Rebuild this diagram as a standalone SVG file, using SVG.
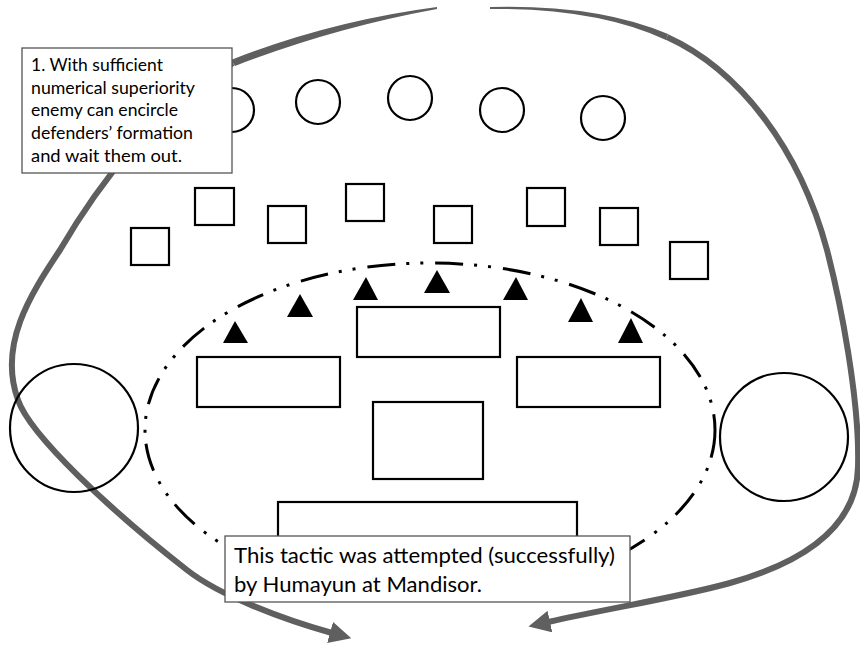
<svg xmlns="http://www.w3.org/2000/svg" width="860" height="645" viewBox="0 0 860 645">
<style>
.u{fill:#fff;stroke:#000;stroke-width:2.2}
.t{fill:#000;stroke:none}
.arr{fill:none;stroke:#5f5f5f;stroke-width:6}
.taper{fill:#5f5f5f;stroke:none}
.ell{fill:none;stroke:#000;stroke-width:3;stroke-dasharray:28 11 3 11 3 12}
.box{fill:#fff;stroke:#555;stroke-width:1.3}
.txt{font-family:Lato,"Noto Sans","Liberation Sans",Arial,sans-serif;fill:#000}
</style>
<defs>
<marker id="ah" markerUnits="userSpaceOnUse" viewBox="0 0 22 22" markerWidth="22" markerHeight="22" refX="2" refY="11" orient="auto">
<path d="M0,0 L22,11 L0,22 Z" fill="#5f5f5f"/>
</marker>
</defs>
<rect width="860" height="645" fill="#fff"/>
<g id="connectors">
<path class="taper" d="M437,7 Q330,21 231,60 L235,66 Q333,28 437,9 Z"/>
<path class="arr" marker-end="url(#ah)" d="M233,63 C160,100 95,190 60,250 C30,295 -2,345 18,400 C30,435 110,510 187,570 C220,596 285,620 332,633"/>
<path class="taper" d="M490,7 Q597,4 668,34 L666,40 Q597,8 490,9 Z"/>
<path class="arr" marker-end="url(#ah)" d="M667,37 C740,70 800,150 827,250 C840,300 860,400 858,467 C857,510 830,555 730,583 C680,597 610,608 548,622"/>
</g>
<g id="top-circles">
<circle class="u" cx="232" cy="110" r="22"/>
<circle class="u" cx="318" cy="102" r="22"/>
<circle class="u" cx="410" cy="98" r="22"/>
<circle class="u" cx="502" cy="110" r="22"/>
<circle class="u" cx="603" cy="118" r="22"/>
</g>
<g id="squares">
<rect class="u" x="131" y="228" width="38" height="37"/>
<rect class="u" x="195" y="188" width="39" height="37"/>
<rect class="u" x="268" y="206" width="38" height="37"/>
<rect class="u" x="346" y="184" width="38" height="37"/>
<rect class="u" x="434" y="206" width="38" height="37"/>
<rect class="u" x="527" y="188" width="38" height="38"/>
<rect class="u" x="600" y="208" width="38" height="37"/>
<rect class="u" x="670" y="242" width="38" height="37"/>
</g>
<g id="side-circles">
<circle class="u" cx="74" cy="428" r="64" style="fill:none"/>
<circle class="u" cx="784" cy="437" r="64"/>
</g>
<g id="formation">
<ellipse class="ell" cx="430" cy="430" rx="285" ry="167"/>
<g id="triangles">
<polygon class="t" points="223,343 235,321 248,343"/>
<polygon class="t" points="287,317 300,294 313,317"/>
<polygon class="t" points="353,300 366,277 378,300"/>
<polygon class="t" points="424,293 437,270 450,293"/>
<polygon class="t" points="503,300 516,277 528,300"/>
<polygon class="t" points="568,322 581,298 593,322"/>
<polygon class="t" points="618,343 631,318 643,343"/>
</g>
<rect class="u" x="357" y="307" width="143" height="50"/>
<rect class="u" x="197" y="357" width="143" height="50"/>
<rect class="u" x="517" y="357" width="143" height="50"/>
<rect class="u" x="373" y="402" width="110" height="77"/>
<rect class="u" x="278" y="502" width="299" height="60"/>
</g>
<g id="note-top">
<rect class="box" x="22" y="48" width="210" height="125"/>
<g class="txt" font-size="18">
<text x="31" y="71" textLength="132" lengthAdjust="spacingAndGlyphs">1. With sufficient</text>
<text x="31" y="93.5" textLength="164" lengthAdjust="spacingAndGlyphs">numerical superiority</text>
<text x="31" y="116" textLength="147" lengthAdjust="spacingAndGlyphs">enemy can encircle</text>
<text x="31" y="139" textLength="162" lengthAdjust="spacingAndGlyphs">defenders’ formation</text>
<text x="31" y="161.5" textLength="151" lengthAdjust="spacingAndGlyphs">and wait them out.</text>
</g>
</g>
<g id="note-bottom">
<rect class="box" x="225" y="536" width="405" height="66"/>
<g class="txt" font-size="21">
<text x="234" y="563" textLength="381" lengthAdjust="spacingAndGlyphs">This tactic was attempted (successfully)</text>
<text x="234" y="592" textLength="248" lengthAdjust="spacingAndGlyphs">by Humayun at Mandisor.</text>
</g>
</g>
</svg>
